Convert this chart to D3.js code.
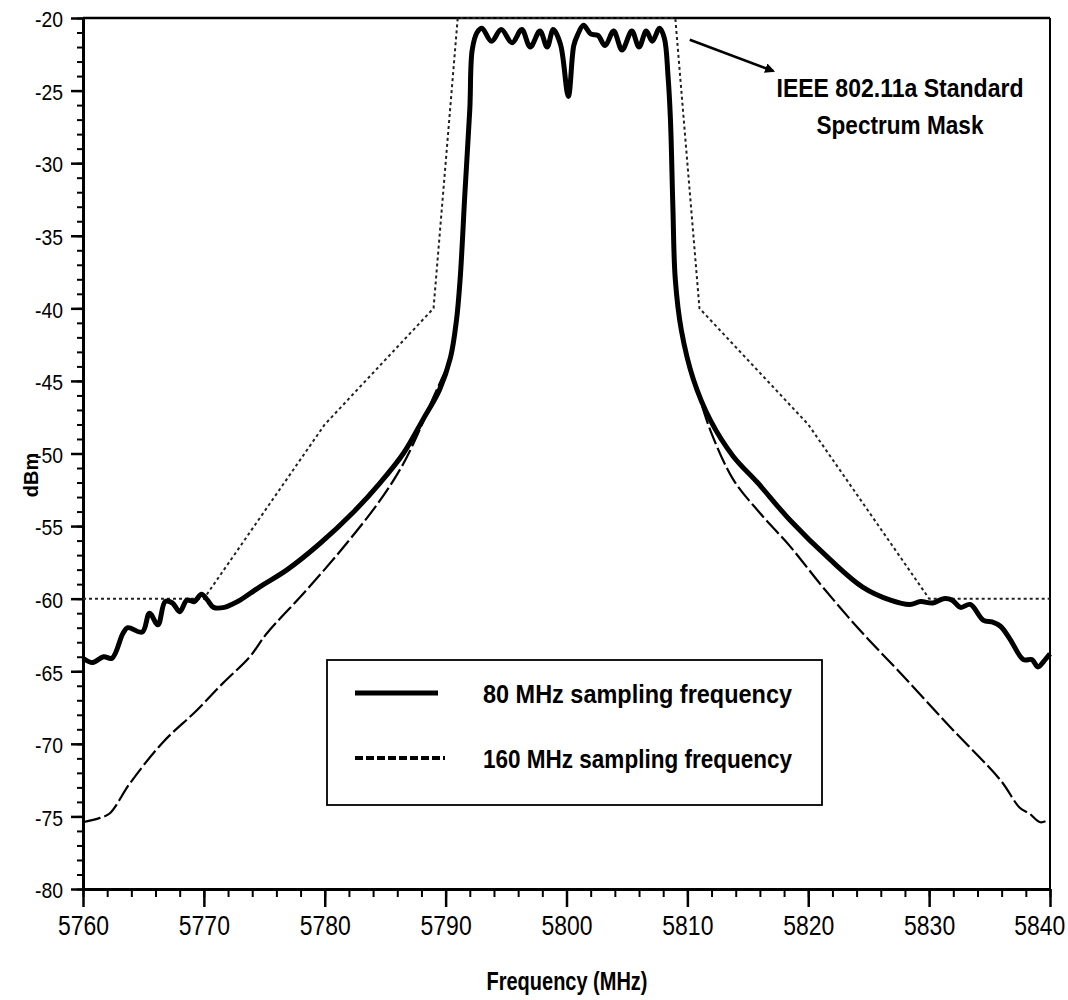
<!DOCTYPE html>
<html>
<head>
<meta charset="utf-8">
<script src="https://cdn.jsdelivr.net/npm/d3@7"></script>
<style>
  body { margin: 0; background: #fff; }
  svg text { font-family: "Liberation Sans Narrow", "Arial Narrow", "Liberation Sans", Arial, sans-serif; fill: #000; }
</style>
</head>
<body>
<div id="chart"></div>
<script>
// ticks
var xTicks = [5760, 5770, 5780, 5790, 5800, 5810, 5820, 5830, 5840];
var yTicks = [-20, -25, -30, -35, -40, -45, -50, -55, -60, -65, -70, -75, -80];

// 80 MHz sampling: lower skirt
var left80Freq = [5760.0, 5760.8, 5761.7, 5762.4, 5763.3, 5763.7, 5764.9, 5765.5, 5766.2, 5766.8, 5767.4, 5768.0, 5768.6, 5769.2, 5769.8, 5770.3, 5770.8, 5771.7, 5772.3, 5773.0, 5774.6, 5776.9, 5779.6, 5782.3, 5784.6, 5786.5, 5788.1, 5789.5, 5790.4, 5790.9, 5791.2, 5791.6, 5792.0, 5792.2, 5792.6];
var left80Dbm  = [-64.1, -64.4, -64.0, -64.1, -62.4, -62.0, -62.3, -61.0, -61.8, -60.2, -60.3, -60.9, -60.1, -60.2, -59.7, -60.1, -60.6, -60.6, -60.4, -60.1, -59.2, -58.0, -56.2, -54.1, -52.0, -50.0, -47.7, -45.6, -43.4, -40.8, -38.0, -32.0, -26.3, -22.2, -21.0];

// passband ripple (both traces coincide here)
var passFreq = [5793.0, 5793.8, 5794.6, 5795.5, 5796.3, 5797.0, 5797.8, 5798.4, 5798.9, 5799.5, 5800.15, 5800.6, 5800.9, 5801.4, 5802.0, 5802.6, 5803.2, 5803.9, 5804.6, 5805.4, 5806.0, 5806.6, 5807.1, 5807.7, 5808.1];
var passDbm  = [-20.7, -21.6, -20.8, -21.7, -20.8, -22.0, -20.9, -22.0, -20.8, -21.8, -25.4, -21.9, -21.2, -20.5, -21.1, -21.2, -21.9, -20.9, -22.2, -20.9, -22.0, -20.9, -21.6, -20.7, -21.4];

// 80 MHz sampling: upper skirt
var right80Freq = [5808.4, 5808.6, 5808.8, 5809.0, 5809.5, 5810.5, 5811.9, 5813.8, 5815.8, 5818.5, 5821.8, 5824.5, 5826.8, 5828.4, 5829.3, 5830.3, 5831.2, 5831.9, 5832.6, 5833.4, 5834.5, 5835.2, 5835.9, 5836.7, 5837.8, 5838.5, 5839.0, 5839.5, 5839.8, 5840.0];
var right80Dbm  = [-24.0, -27.0, -33.0, -38.0, -41.5, -44.9, -47.7, -50.2, -52.0, -54.6, -57.3, -59.2, -60.1, -60.4, -60.2, -60.3, -60.0, -60.1, -60.6, -60.4, -61.5, -61.6, -61.9, -62.8, -64.2, -64.2, -64.7, -64.3, -64.0, -63.8];

// 160 MHz sampling: skirts
var left160Freq = [5760.0, 5761.4, 5762.2, 5763.9, 5766.6, 5769.4, 5771.6, 5773.8, 5775.2, 5778.5, 5781.8, 5784.6, 5786.5, 5788.1, 5789.0, 5789.6, 5790.4, 5790.9, 5791.2, 5791.6, 5792.0, 5792.2, 5792.6];
var left160Dbm  = [-75.4, -75.1, -74.8, -72.7, -69.9, -67.7, -65.8, -64.0, -62.4, -59.4, -56.2, -53.2, -50.7, -47.9, -46.1, -45.0, -43.4, -40.8, -38.0, -32.0, -26.3, -22.2, -21.0];
var right160Freq = [5808.4, 5808.6, 5808.8, 5809.0, 5809.5, 5810.2, 5810.8, 5811.9, 5813.8, 5816.0, 5818.5, 5821.2, 5824.3, 5827.6, 5831.7, 5835.9, 5837.5, 5838.3, 5839.2, 5840.0];
var right160Dbm  = [-24.0, -27.0, -33.0, -38.0, -41.5, -44.0, -45.6, -48.4, -51.8, -54.1, -56.4, -59.2, -62.2, -65.1, -68.8, -72.5, -74.4, -74.8, -75.4, -75.2];

// IEEE 802.11a spectrum mask
var maskFreq = [5760, 5770, 5780, 5789, 5791, 5809, 5811, 5820, 5830, 5840];
var maskDbm  = [-60, -60, -48, -40, -20, -20, -40, -48, -60, -60];

var legendLabels = ["80 MHz  sampling frequency", "160 MHz sampling frequency"];

function zipPts(f, d) {
    return f.map(function (v, i) { return [v, d[i]]; });
}

function init() {
    var w = 1068, h = 1000;
    var left = 83, right = 1050, top = 18, bottom = 889;

    var svg = d3.select("#chart").append("svg")
        .attr("width", w)
        .attr("height", h);

    var x = d3.scaleLinear().domain([5760, 5840]).range([left, right]);
    var y = d3.scaleLinear().domain([-80, -20]).range([bottom, top]);

    // frame: top and right
    svg.append("line").attr("x1", left).attr("x2", right).attr("y1", top).attr("y2", top)
        .attr("stroke", "#000").attr("stroke-width", 2.5);
    svg.append("line").attr("x1", right).attr("x2", right).attr("y1", top).attr("y2", bottom)
        .attr("stroke", "#000").attr("stroke-width", 2);

    // minor ticks
    svg.append("g")
        .attr("transform", "translate(0," + bottom + ")")
        .call(d3.axisBottom(x).tickValues(d3.range(5760, 5841, 2)).tickSize(8).tickFormat(""))
        .call(function (g) { g.select(".domain").remove(); })
        .selectAll("line").attr("stroke-width", 2);
    svg.append("g")
        .attr("transform", "translate(" + left + ",0)")
        .call(d3.axisLeft(y).tickValues(d3.range(-80, -19, 1)).tickSize(6).tickFormat(""))
        .call(function (g) { g.select(".domain").remove(); })
        .selectAll("line").attr("stroke-width", 2);

    // major axes
    var xAxis = svg.append("g")
        .attr("transform", "translate(0," + bottom + ")")
        .call(d3.axisBottom(x).tickValues(xTicks).tickSize(18).tickPadding(6).tickSizeOuter(0)
            .tickFormat(function (d) { return String(d); }));
    xAxis.select(".domain").attr("stroke-width", 3);
    xAxis.selectAll("line").attr("stroke-width", 2.5);
    // condensed look: squeeze each label horizontally around its tick
    xAxis.selectAll("text")
        .attr("font-size", "28px")
        .attr("dy", "0.78em")
        .attr("x", function (d) { return d === 5840 ? -13 : 0; })
        .attr("transform", "scale(0.82,1)");

    var yAxis = svg.append("g")
        .attr("transform", "translate(" + left + ",0)")
        .call(d3.axisLeft(y).tickValues(yTicks).tickSize(12).tickPadding(8).tickSizeOuter(0)
            .tickFormat(function (d) { return String(d); }));
    yAxis.select(".domain").attr("stroke-width", 3);
    yAxis.selectAll("line").attr("stroke-width", 2.5);
    yAxis.selectAll("text")
        .attr("font-size", "22px")
        .attr("dy", "0.4em")
        .attr("textLength", 28)
        .attr("lengthAdjust", "spacingAndGlyphs");

    // axis titles
    svg.append("text")
        .attr("text-anchor", "middle")
        .attr("x", 567)
        .attr("y", 990)
        .attr("font-size", "25px")
        .attr("font-weight", "bold")
        .attr("textLength", 161)
        .attr("lengthAdjust", "spacingAndGlyphs")
        .text("Frequency (MHz)");
    svg.append("text")
        .attr("text-anchor", "middle")
        .attr("transform", "translate(38,475) rotate(-90)")
        .attr("font-size", "20px")
        .attr("font-weight", "bold")
        .text("dBm");

    var line = d3.line()
        .curve(d3.curveCatmullRom.alpha(0.5))
        .x(function (d) { return x(d[0]); })
        .y(function (d) { return y(d[1]); });
    var maskLine = d3.line()
        .x(function (d) { return x(d[0]); })
        .y(function (d) { return y(d[1]); });

    var pass = zipPts(passFreq, passDbm);
    var s160 = zipPts(left160Freq, left160Dbm).concat(pass, zipPts(right160Freq, right160Dbm));
    var s80 = zipPts(left80Freq, left80Dbm).concat(pass, zipPts(right80Freq, right80Dbm));
    var mask = zipPts(maskFreq, maskDbm);

    // mask
    svg.append("path")
        .datum(mask)
        .attr("d", maskLine)
        .attr("fill", "none")
        .attr("stroke", "#222")
        .attr("stroke-width", 2)
        .attr("stroke-dasharray", "3,3");

    // 160 MHz trace
    svg.append("path")
        .datum(s160)
        .attr("d", line)
        .attr("fill", "none")
        .attr("stroke", "#000")
        .attr("stroke-width", 2.2)
        .attr("stroke-dasharray", "18,4");

    // 80 MHz trace
    svg.append("path")
        .datum(s80)
        .attr("d", line)
        .attr("fill", "none")
        .attr("stroke", "#000")
        .attr("stroke-width", 5)
        .attr("stroke-linejoin", "round");

    // annotation
    svg.append("defs").append("marker")
        .attr("id", "head")
        .attr("viewBox", "0 0 10 10")
        .attr("refX", 8).attr("refY", 5)
        .attr("markerWidth", 4).attr("markerHeight", 4)
        .attr("orient", "auto")
        .append("path").attr("d", "M0,0L10,5L0,10Z").attr("fill", "#000");
    svg.append("line")
        .attr("x1", x(5810.2)).attr("y1", y(-21.5))
        .attr("x2", x(5817.1)).attr("y2", y(-23.65))
        .attr("stroke", "#000").attr("stroke-width", 2.5)
        .attr("marker-end", "url(#head)");
    svg.append("text")
        .attr("text-anchor", "middle")
        .attr("x", 900).attr("y", 97)
        .attr("font-size", "25px").attr("font-weight", "bold")
        .attr("textLength", 247).attr("lengthAdjust", "spacingAndGlyphs")
        .text("IEEE 802.11a Standard");
    svg.append("text")
        .attr("text-anchor", "middle")
        .attr("x", 900).attr("y", 134)
        .attr("font-size", "25px").attr("font-weight", "bold")
        .attr("textLength", 167).attr("lengthAdjust", "spacingAndGlyphs")
        .text("Spectrum Mask");

    // legend
    var lg = svg.append("g");
    lg.append("rect")
        .attr("x", 327).attr("y", 660)
        .attr("width", 495).attr("height", 145)
        .attr("fill", "#fff")
        .attr("stroke", "#000").attr("stroke-width", 1.8);
    var rows = [
        { y: 693, width: 5, dash: null },
        { y: 758, width: 4, dash: "8,3" }
    ];
    rows.forEach(function (r, i) {
        lg.append("line")
            .attr("x1", 355).attr("x2", i === 0 ? 438 : 445)
            .attr("y1", r.y).attr("y2", r.y)
            .attr("stroke", "#000")
            .attr("stroke-width", r.width)
            .attr("stroke-dasharray", r.dash);
        lg.append("text")
            .attr("x", 483).attr("y", r.y + 10)
            .attr("font-size", "26px").attr("font-weight", "bold")
            .attr("textLength", 309).attr("lengthAdjust", "spacingAndGlyphs")
            .text(legendLabels[i]);
    });
}

window.onload = init;
</script>
</body>
</html>
